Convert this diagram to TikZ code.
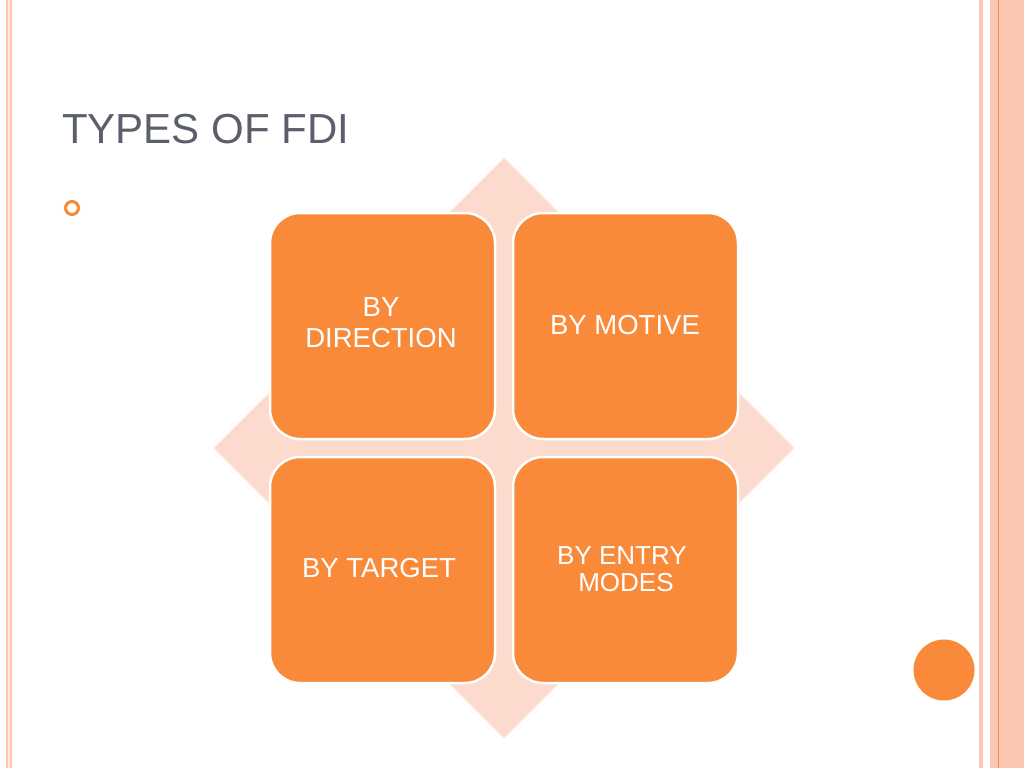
\documentclass[tikz,border=0pt]{standalone}
\usepackage{fontspec}
\setmainfont{Liberation Sans}
\definecolor{boxorange}{HTML}{F88A3A}
\definecolor{diapink}{HTML}{FCDACE}
\definecolor{bandpink}{HTML}{F9C7B2}
\definecolor{lineorange}{HTML}{F5904F}
\definecolor{titlegray}{HTML}{5B5F6B}
\tikzset{
  tile/.style={rectangle, rounded corners=30pt, fill=boxorange, draw=white, line width=2.5pt,
    minimum width=225pt, minimum height=226pt, inner sep=0pt},
  tiletext/.style={anchor=base, inner sep=0pt, text=white, font=\fontsize{27.5}{31}\selectfont},
  tiletextsmall/.style={anchor=base, inner sep=0pt, text=white, font=\fontsize{26}{27}\selectfont},
}
\begin{document}
\begin{tikzpicture}[x=1pt,y=-1pt]
\useasboundingbox (0,0) rectangle (1024,768);
\fill[white] (0,0) rectangle (1024,768);
% left border
\fill[bandpink] (6,0) rectangle (12,768);
\fill[diapink!60!white] (8,0) rectangle (10,768);
% right border
\fill[bandpink] (979,0) rectangle (983,768);
\fill[bandpink] (990,0) rectangle (1024,768);
\draw[lineorange, line width=0.8pt] (998,0) -- (998,768);
% title
\node[anchor=base west, inner sep=0pt, text=titlegray, font=\fontsize{42}{50}\selectfont] (title) at (62,143) {TYPES OF FDI};
% bullet
\draw[boxorange, line width=3pt] (72,208) circle (6.5);
% diamond
\fill[diapink] (504,158) -- (794,448) -- (504,738) -- (214,448) -- cycle;
% tiles
\node[tile] (dir) at (382.5,326) {};
\node[tile] (mot) at (625.5,326) {};
\node[tile] (tar) at (382.5,570) {};
\node[tile] (ent) at (625.5,570) {};
% texts
\node[tiletext] (dir1) at (381,316) {BY};
\node[tiletext] (dir2) at (381,347) {DIRECTION};
\node[tiletext] (mot1) at (625,334) {BY MOTIVE};
\node[tiletext] (tar1) at (379,577) {BY TARGET};
\node[tiletextsmall] (ent1) at (622,564) {BY ENTRY};
\node[tiletextsmall] (ent2) at (626,591) {MODES};
% circle
\fill[boxorange] (944,670) circle (30.5);
\end{tikzpicture}
\end{document}
